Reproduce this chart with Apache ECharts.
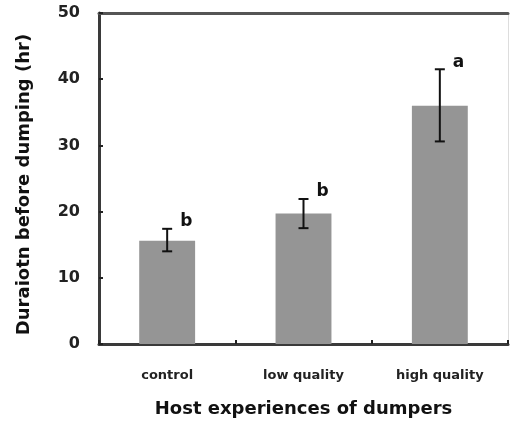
<!DOCTYPE html>
<html><head><meta charset="utf-8">
<script src="https://cdn.jsdelivr.net/npm/echarts@6/dist/echarts.min.js"></script>
<style>html,body{margin:0;padding:0;background:#fff}#c{width:511px;height:423px}</style>
</head><body><div id="c"></div>
<script>
var categories = ['control', 'low quality', 'high quality'];
var means = [15.6, 19.7, 36.0];
var errLow = [14.0, 17.5, 30.6];
var errHigh = [17.4, 21.9, 41.5];
var letters = ['b', 'b', 'a'];
var yTicks = [0, 10, 20, 30, 40, 50];

var FONT = '"DejaVu Sans", sans-serif';
var chart = echarts.init(document.getElementById('c'));
var errData = categories.map(function (c, i) { return [i, errLow[i], errHigh[i], letters[i]]; });
chart.setOption({
  animation: false,
  grid: { left: 99, top: 13, right: 3, bottom: 77 },
  xAxis: [{
    type: 'category', data: categories,
    axisLine: { lineStyle: { color: '#3a3a3a', width: 3 } },
    axisTick: { show: true, inside: true, length: 4, lineStyle: { color: '#222', width: 2 } },
    axisLabel: { color: '#222', fontFamily: FONT, fontWeight: 'bold', fontSize: 13, margin: 25 },
    name: 'Host experiences of dumpers', nameLocation: 'middle', nameGap: 56,
    nameTextStyle: { color: '#111', fontFamily: FONT, fontWeight: 'bold', fontSize: 18 }
  }, {
    type: 'category', data: categories, position: 'top',
    axisLine: { onZero: false, lineStyle: { color: '#555', width: 3 } },
    axisTick: { show: false }, axisLabel: { show: false }
  }],
  yAxis: [{
    type: 'value', min: 0, max: 50, interval: 10,
    axisLine: { show: true, lineStyle: { color: '#3a3a3a', width: 3 } },
    axisTick: { show: true, inside: true, length: 4, lineStyle: { color: '#222', width: 2 } },
    splitLine: { show: false },
    axisLabel: { color: '#222', fontFamily: FONT, fontWeight: 'bold', fontSize: 16, margin: 19,
      formatter: function (v) { return yTicks.indexOf(v) >= 0 ? String(v) : ''; } },
    name: 'Duraiotn before dumping (hr)', nameLocation: 'middle', nameGap: 66,
    nameTextStyle: { color: '#111', fontFamily: FONT, fontWeight: 'bold', fontSize: 18, padding: [0, 12, 0, 0] }
  }, {
    type: 'value', min: 0, max: 50, interval: 10, position: 'right',
    axisLine: { show: true, onZero: false, lineStyle: { color: '#dddddd', width: 1 } },
    axisTick: { show: false }, axisLabel: { show: false }, splitLine: { show: false }
  }],
  series: [{
    type: 'bar', data: means, barWidth: '41%',
    itemStyle: { color: '#959595' }
  }, {
    type: 'custom', data: errData,
    renderItem: function (params, api) {
      var x = api.value(0);
      var lo = api.coord([x, api.value(1)]);
      var hi = api.coord([x, api.value(2)]);
      var cap = 5;
      var st = { stroke: '#111', lineWidth: 2 };
      return { type: 'group', children: [
        { type: 'line', shape: { x1: lo[0], y1: lo[1], x2: hi[0], y2: hi[1] }, style: st },
        { type: 'line', shape: { x1: lo[0] - cap, y1: lo[1], x2: lo[0] + cap, y2: lo[1] }, style: st },
        { type: 'line', shape: { x1: hi[0] - cap, y1: hi[1], x2: hi[0] + cap, y2: hi[1] }, style: st },
        { type: 'text', x: hi[0] + 13, y: hi[1] - 7,
          style: { text: api.value(3), fill: '#111', font: 'bold 17px ' + FONT, textAlign: 'left', textVerticalAlign: 'middle' } }
      ] };
    },
    z: 5
  }]
});
</script></body></html>
